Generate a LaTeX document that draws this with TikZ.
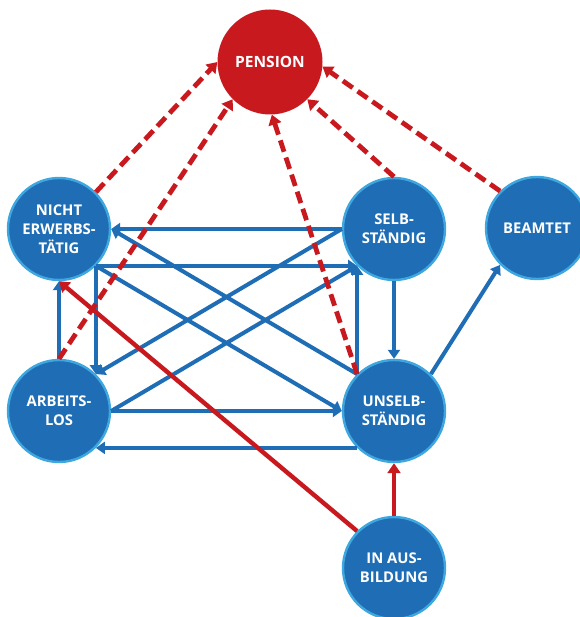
\documentclass[tikz,border=0pt]{standalone}
\usepackage{fontspec}
\setmainfont{Open Sans}
\usetikzlibrary{arrows.meta}
\definecolor{nodeblue}{HTML}{1F6EB5}
\definecolor{ringblue}{HTML}{3FA7DF}
\definecolor{pred}{HTML}{C8191E}
\tikzset{
  state/.style={circle, fill=nodeblue, draw=ringblue, line width=2.4pt,
    minimum size=102pt, inner sep=0pt, text=white, align=center,
    font=\fontsize{14.8}{19}\selectfont\bfseries},
  pens/.style={circle, fill=pred, minimum size=105pt, inner sep=0pt,
    text=white, align=center, font=\fontsize{15.5}{19}\selectfont\bfseries},
  blueflow/.style={draw=nodeblue, line width=4pt,
    -{Triangle[length=9pt,width=12pt]}},
  redflow/.style={draw=pred, line width=4.4pt,
    -{Triangle[length=10pt,width=13pt]}},
  pensflow/.style={draw=pred, line width=4.8pt, dash pattern=on 12pt off 6pt,
    -{Triangle[length=10pt,width=13pt]}}
}
\begin{document}
\begin{tikzpicture}[x=1pt,y=-1pt]
\useasboundingbox (0,0) rectangle (579,617);
\node[pens]  (pension) at (270,62) {PENSION};
\node[state] (nicht)   at (59,229) {NICHT\\ERWERBS-\\TÄTIG};
\node[state] (selb)    at (394,229) {SELB-\\STÄNDIG};
\node[state] (beamtet) at (537,228) {BEAMTET};
\node[state] (arbeits) at (59,411) {ARBEITS-\\LOS};
\node[state] (unselb)  at (394,411) {UNSELB-\\STÄNDIG};
\node[state] (ausb)    at (394,568) {IN AUS-\\BILDUNG};

% blue transitions
\draw[blueflow] (selb.west) -- (nicht.east);
\draw[blueflow] (nicht.-45) -- (selb.-135);
\draw[blueflow] (nicht.-45) -- (arbeits.45);
\draw[blueflow] (arbeits.north) -- (nicht.south);
\draw[blueflow] (selb.south) -- (unselb.north);
\draw[blueflow] (unselb.135) -- (selb.-135);
\draw[blueflow] (arbeits.east) -- (unselb.west);
\draw[blueflow] (unselb.-135) -- (arbeits.-45);
\draw[blueflow] (selb.west) -- (arbeits.45);
\draw[blueflow] (arbeits.east) -- (selb.-135);
\draw[blueflow] (nicht.-45) -- (unselb.west);
\draw[blueflow] (unselb.135) -- (nicht.east);
\draw[blueflow] (unselb.45) -- (beamtet.-135);

% red solid
\draw[redflow] (ausb.north) -- (unselb.south);
\draw[redflow] (ausb.135) -- (nicht.south);

% red dashed to pension
\draw[pensflow] (nicht.45) -- (pension.west);
\draw[pensflow] (arbeits.north) -- (pension.-135);
\draw[pensflow] (unselb.135) -- (pension.-88);
\draw[pensflow] (selb.north) -- (pension.-45);
\draw[pensflow] (beamtet.135) -- (pension.-5);
\end{tikzpicture}
\end{document}
